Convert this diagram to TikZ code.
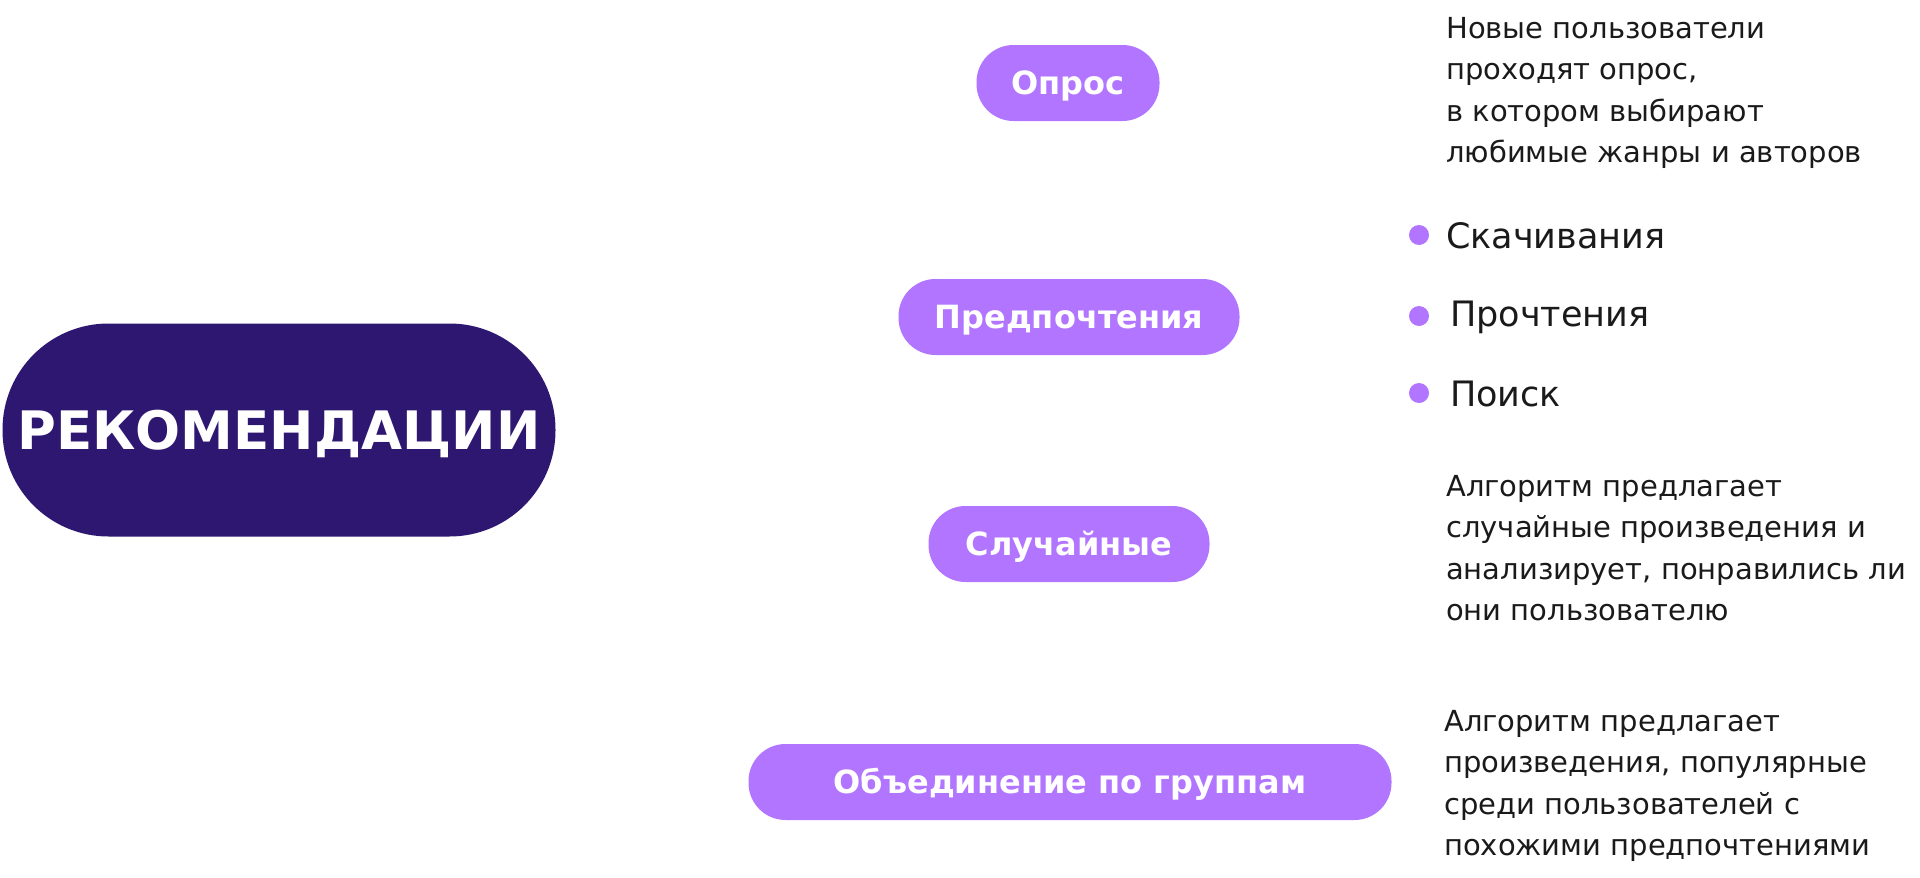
\documentclass[tikz,border=0pt]{standalone}
\usepackage{fontspec}
\setmainfont{DejaVu Sans}
\definecolor{pill}{HTML}{B175FF}
\definecolor{mainpill}{HTML}{2E1770}
\definecolor{txt}{HTML}{1A1A1A}
\begin{document}
\begin{tikzpicture}[x=1pt,y=-1pt,
  pillbox/.style={fill=pill, draw=none, rounded corners=37pt, minimum height=76pt, inner sep=0pt, text=white, text height=23.3pt, text depth=0pt, font=\fontsize{32}{36}\selectfont\bfseries},
  descbox/.style={anchor=west, align=left, inner sep=0pt, text=txt, font=\fontsize{29}{41.3}\selectfont},
  itembox/.style={anchor=west, inner sep=0pt, text=txt, font=\fontsize{35}{40}\selectfont},
  dotmark/.style={circle, fill=pill, draw=none, minimum size=20pt, inner sep=0pt}]
\useasboundingbox (0,0) rectangle (1920,878);
\node[fill=mainpill, rounded corners=106pt, minimum width=553pt, minimum height=213pt, inner sep=0pt, text=white, text height=38.7pt, text depth=0pt, font=\fontsize{53}{58}\selectfont\bfseries] (main) at (279,430) {РЕКОМЕНДАЦИИ};
\node[pillbox, minimum width=183pt] (opros) at (1068,83) {Опрос};
\node[pillbox, minimum width=341pt] (pref) at (1069,317) {Предпочтения};
\node[pillbox, minimum width=281pt] (rand) at (1069,544) {Случайные};
\node[pillbox, minimum width=643pt] (group) at (1070,782) {Объединение по группам};
\node[descbox] (d1) at (1446,93) {Новые пользователи\\проходят опрос,\\в котором выбирают\\любимые жанры и авторов};
\node[dotmark] (b1) at (1419,235) {};
\node[dotmark] (b2) at (1419,316) {};
\node[dotmark] (b3) at (1419,393) {};
\node[itembox] (i1) at (1446,236) {Скачивания};
\node[itembox] (i2) at (1450,317) {Прочтения};
\node[itembox] (i3) at (1450,394) {Поиск};
\node[descbox] (d3) at (1446,548) {Алгоритм предлагает\\случайные произведения и\\анализирует, понравились ли\\они пользователю};
\node[descbox] (d4) at (1444,786) {Алгоритм предлагает\\произведения, популярные\\среди пользователей с\\похожими предпочтениями};
\end{tikzpicture}
\end{document}
